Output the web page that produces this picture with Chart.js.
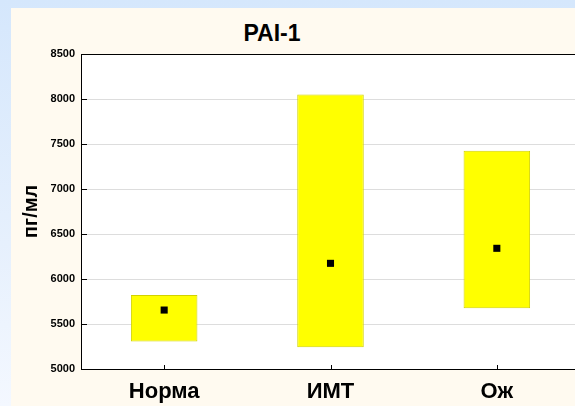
<!DOCTYPE html>
<html>
<head>
<meta charset="utf-8">
<script src="https://cdn.jsdelivr.net/npm/chart.js@4"></script>
<style>
  html, body { margin: 0; padding: 0; }
  body { width: 575px; height: 406px; overflow: hidden; position: relative;
         background: linear-gradient(to bottom, #d5e7fc 0%, #e6f0fd 60%, #f4f8ff 100%); font-family: "Liberation Sans", Arial, sans-serif; }
  #panel { position: absolute; left: 11px; top: 8px; right: 0; bottom: 0; background: #fffaf0; }
  #title { position: absolute; left: 0; width: 544px; top: 18px; text-align: center;
           font: bold 23px "Liberation Sans", Arial, sans-serif; color: #000; line-height: 30px; }
  #wrap { position: absolute; left: 0; top: 0; width: 592px; height: 406px; }
</style>
</head>
<body>
<div id="panel"></div>
<div id="title">PAI-1</div>
<div id="wrap"><canvas id="c"></canvas></div>
<script>
const categories = ["Норма", "ИМТ", "Ож"];
const lowValues  = [5305, 5241, 5674];
const highValues = [5822, 8050, 7426];
const meanValues = [5655, 6174, 6341];
const yTicks = [5000, 5500, 6000, 6500, 7000, 7500, 8000, 8500];
const yAxisTitle = "пг/мл";

const framePlugin = {
  id: 'frame',
  beforeDraw(chart) {
    const {ctx, chartArea: a} = chart;
    ctx.save();
    ctx.fillStyle = '#ffffff';
    ctx.fillRect(a.left, a.top, a.right - a.left, a.bottom - a.top);
    ctx.restore();
  },
  afterDraw(chart) {
    const {ctx, chartArea: a, scales} = chart;
    ctx.save();
    ctx.strokeStyle = '#000';
    ctx.lineWidth = 1;
    ctx.beginPath();
    ctx.moveTo(a.left + 0.5, a.bottom + 0.5);
    ctx.lineTo(a.left + 0.5, a.top + 0.5);
    ctx.lineTo(a.right + 0.5, a.top + 0.5);
    ctx.moveTo(a.left, a.bottom + 0.5);
    ctx.lineTo(a.right, a.bottom + 0.5);
    scales.y.ticks.forEach((t, i) => {
      const y = Math.round(scales.y.getPixelForTick(i)) + 0.5;
      ctx.moveTo(a.left, y); ctx.lineTo(a.left + 6, y);
    });
    scales.x.ticks.forEach((t, i) => {
      const x = Math.round(scales.x.getPixelForTick(i)) + 0.5;
      ctx.moveTo(x, a.bottom); ctx.lineTo(x, a.bottom - 4);
    });
    ctx.stroke();
    ctx.restore();
  }
};

new Chart(document.getElementById('c'), {
  data: {
    labels: categories,
    datasets: [
      {
        type: 'scatter',
        data: meanValues.map((v, i) => ({x: categories[i], y: v})),
        backgroundColor: '#000',
        borderColor: '#000',
        pointStyle: 'rect',
        pointRadius: 5,
        borderWidth: 0,
        showLine: false,
        order: 0
      },
      {
        type: 'bar',
        data: lowValues.map((lo, i) => [lo, highValues[i]]),
        backgroundColor: '#ffff00',
        borderColor: '#d2d200',
        borderWidth: 1,
        borderSkipped: false,
        categoryPercentage: 1.0,
        barPercentage: 0.4,
        order: 1
      }
    ]
  },
  plugins: [framePlugin],
  options: {
    responsive: true,
    maintainAspectRatio: false,
    animation: false,
    devicePixelRatio: 1,
    layout: { padding: { top: 54, right: 12, left: 0, bottom: 0 } },
    plugins: { legend: { display: false }, tooltip: { enabled: false }, title: { display: false } },
    scales: {
      x: {
        type: 'category',
        labels: categories,
        offset: true,
        grid: { display: false, drawTicks: false },
        border: { display: false },
        ticks: { color: '#000', padding: 10, font: { family: '"Liberation Sans", Arial', size: 22, weight: 'bold' } },
        afterFit(s) { s.height = 37; }
      },
      y: {
        min: 5000, max: 8500,
        afterBuildTicks(s) { s.ticks = yTicks.map(v => ({value: v})); },
        grid: { color: '#dddddd', lineWidth: 1, drawTicks: false },
        border: { display: false },
        ticks: { color: '#000', padding: 6, callback: v => String(v),
                 font: { family: '"Liberation Sans", Arial', size: 11, weight: 'bold' } },
        title: { display: true, text: yAxisTitle, color: '#000', padding: { top: 19, bottom: 0 },
                 font: { family: '"Liberation Sans", Arial', size: 20, weight: 'bold' } },
        afterFit(s) { s.width = 81; }
      }
    }
  }
});
</script>
</body>
</html>
